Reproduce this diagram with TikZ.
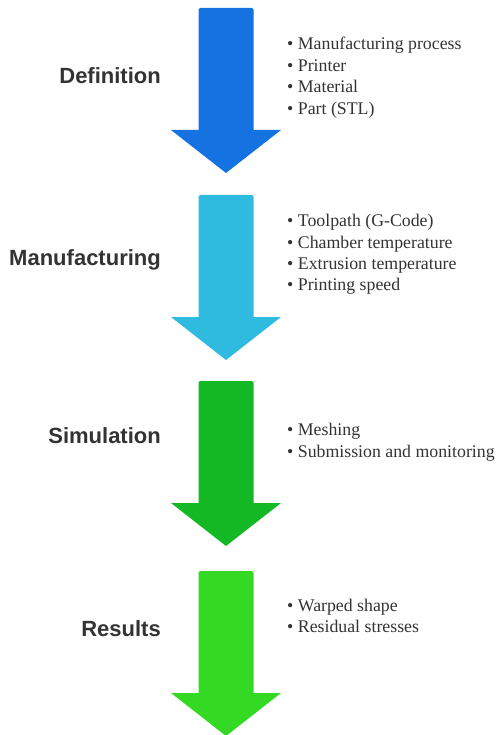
\documentclass[tikz,border=0pt]{standalone}
\usepackage{fontspec}
\setmainfont{Liberation Serif}
\newfontfamily\titlefont{Liberation Sans}
\definecolor{txt}{HTML}{333333}
\definecolor{cdef}{HTML}{1473E1}
\definecolor{cman}{HTML}{2FBBE0}
\definecolor{csim}{HTML}{12B924}
\definecolor{cres}{HTML}{34D923}
\newcommand\myflowarrow[2]{%
  \fill[#2, rounded corners=2pt] (198.5,#1) rectangle (253.5,{#1+125});
  \fill[#2] (171,{#1+122}) -- (281,{#1+122}) -- (226,{#1+165}) -- cycle;
}
\begin{document}
\begin{tikzpicture}[x=1pt,y=-1pt,
  title/.style={font=\titlefont\bfseries\fontsize{22}{26}\selectfont, text=txt, anchor=base east, inner sep=0pt},
  item/.style={font=\fontsize{17.8}{21}\selectfont, text=txt, anchor=base west, inner sep=0pt},
]
\useasboundingbox (0,0) rectangle (501,735);
\clip (0,0) rectangle (501,735);
\myflowarrow{8}{cdef}
\myflowarrow{195}{cman}
\myflowarrow{381}{csim}
\myflowarrow{571}{cres}

\node[title] (tdef) at (161,83.3) {Definition};
\node[title] (tman) at (161,265) {Manufacturing};
\node[title] (tsim) at (161,443.3) {Simulation};
\node[title] (tres) at (161,636) {Results};

\node[item] (d1) at (287,50) {\textbullet\ Manufacturing process};
\node[item] (d2) at (287,71.5) {\textbullet\ Printer};
\node[item] (d3) at (287,93) {\textbullet\ Material};
\node[item] (d4) at (287,114.5) {\textbullet\ Part (STL)};

\node[item] (m1) at (287,226.5) {\textbullet\ Toolpath (G-Code)};
\node[item] (m2) at (287,248) {\textbullet\ Chamber temperature};
\node[item] (m3) at (287,269) {\textbullet\ Extrusion temperature};
\node[item] (m4) at (287,290) {\textbullet\ Printing speed};

\node[item] (s1) at (287,435) {\textbullet\ Meshing};
\node[item] (s2) at (287,457) {\textbullet\ Submission and monitoring};

\node[item] (r1) at (287,611) {\textbullet\ Warped shape};
\node[item] (r2) at (287,632.5) {\textbullet\ Residual stresses};
\end{tikzpicture}
\end{document}
